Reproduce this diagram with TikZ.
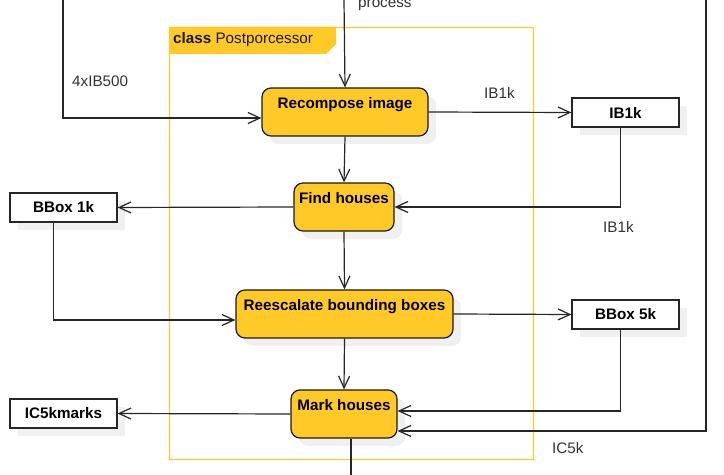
\documentclass[tikz,border=0pt]{standalone}
\usepackage{fontspec}
\setmainfont{Liberation Sans}
\usetikzlibrary{arrows.meta,shadows,calc}
\definecolor{ambery}{HTML}{FFCA28}
\begin{document}
\begin{tikzpicture}[x=1bp,y=-1bp,
  font=\fontsize{15.3}{18}\selectfont,
  line/.style={draw=black!85, line width=1.2bp},
  conn/.style={line, -{Straight Barb[length=12bp,width=11bp,line width=1.2bp]}},
  shad/.style={drop shadow={shadow xshift=8bp,shadow yshift=-8bp,fill=black!6,opacity=1}},
  ybox/.style={draw=black!90, line width=1.2bp, fill=ambery, rounded corners=9bp,
    font=\fontsize{15.3}{18}\selectfont\bfseries, text height=11bp, text depth=18bp,
    inner ysep=9.5bp, inner xsep=0pt, shad},
  wbox/.style={draw=black!85, line width=1.2bp, fill=white, minimum width=107bp,
    minimum height=29bp, inner sep=0pt, font=\fontsize{15.3}{18}\selectfont\bfseries, shad},
  lbl/.style={text=black!80, inner sep=0pt, anchor=base west}]
\useasboundingbox (0,0) rectangle (724,475);
% frame
\fill[ambery, even odd rule] (168.8,26.8) rectangle (534.2,460.2) (170.2,28.2) rectangle (532.8,458.8);
\fill[ambery] (169,27) -- (336,27) -- (336,44) -- (326,54) -- (169,54) -- cycle;
\node[anchor=west, inner sep=0pt, text=black!90] (tab) at (173,40) {\textbf{class} Postporcessor};
% nodes
\node[ybox, minimum width=166bp] (rec) at (345,112) {Recompose image};
\node[ybox, minimum width=100bp] (find) at (344,207) {Find houses};
\node[ybox, minimum width=217bp] (resc) at (344.5,314) {Reescalate bounding boxes};
\node[ybox, minimum width=106bp] (mark) at (344,414) {Mark houses};
\node[wbox] (ib1k) at (625.5,112.5) {IB1k};
\node[wbox] (bb1) at (63.5,207.5) {BBox 1k};
\node[wbox] (bb5) at (625.5,314.5) {BBox 5k};
\node[wbox] (ic5) at (63.5,413.5) {IC5kmarks};
% free ends
\coordinate (topin) at (344,0);
\coordinate (leftin) at (63,0);
\coordinate (rightin) at (706,0);
\coordinate (out) at (351,475);
% connectors
\draw[conn] (topin) -- (rec.north);
\draw[conn] (leftin) |- ($(rec.west)+(0,6)$);
\draw[conn] (rec.east) -- (ib1k.west);
\draw[conn] ($(ib1k.south)+(-5,0)$) |- (find.east);
\draw[conn] (rec.south) -- (find.north);
\draw[conn] (find.west) -- (bb1.east);
\draw[conn] ($(bb1.south)+(-10,0)$) |- ($(resc.west)+(0,6)$);
\draw[conn] (find.south) -- (resc.north);
\draw[conn] (resc.east) -- (bb5.west);
\draw[conn] ($(bb5.south)+(-5,0)$) |- ($(mark.east)+(0,-3)$);
\draw[conn] (rightin) |- ($(mark.east)+(0,17)$);
\draw[conn] (resc.south) -- (mark.north);
\draw[conn] (mark.west) -- (ic5.east);
\draw[line] (mark.south -| out) -- (out);
% labels
\node[lbl] (lproc) at (358,7.5) {process};
\node[lbl] (l4x) at (72,87) {4xIB500};
\node[lbl] (lib1) at (484,99) {IB1k};
\node[lbl] (lib2) at (603,233) {IB1k};
\node[lbl] (lic5) at (552,453) {IC5k};
\end{tikzpicture}
\end{document}
